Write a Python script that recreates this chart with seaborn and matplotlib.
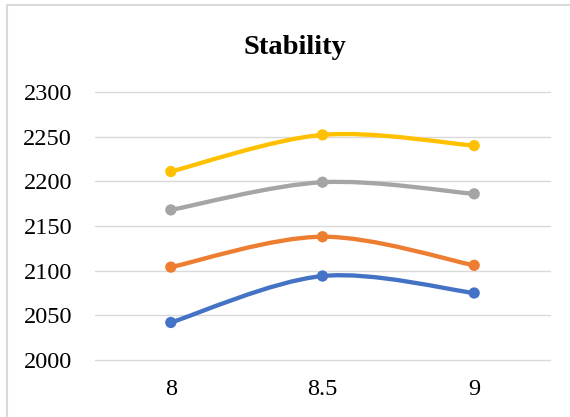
import matplotlib
matplotlib.use("Agg")
import matplotlib.pyplot as plt
from matplotlib.path import Path
from matplotlib.patches import PathPatch
from matplotlib.lines import Line2D
import numpy as np
import pandas as pd
import seaborn as sns

# Category axis (pH levels) and the four stability series
categories = ["8", "8.5", "9"]
series_1 = [2042, 2094, 2075]
series_2 = [2104, 2138, 2106]
series_3 = [2168, 2199, 2186]
series_4 = [2211, 2252, 2240]
series_names = ["Series1", "Series2", "Series3", "Series4"]
series_values = [series_1, series_2, series_3, series_4]
palette = ["#4472C4", "#ED7D31", "#A5A5A5", "#FFC000"]

y_ticks = [2000, 2050, 2100, 2150, 2200, 2250, 2300]

sns.set_theme(style="white")
plt.rcParams["font.family"] = ["Liberation Serif", "DejaVu Serif"]

df = pd.DataFrame(
    [
        {"pos": i, "value": v, "series": name}
        for name, vals in zip(series_names, series_values)
        for i, v in enumerate(vals)
    ]
)

W, H = 570, 417
fig = plt.figure(figsize=(W / 100, H / 100), dpi=100)
ax = fig.add_axes([95 / W, 1 - 360 / H, 455 / W, 268 / H])


def smooth_path(xs, ys):
    """Cubic Bezier path through the points (Catmull-Rom style smoothing)."""
    pts = np.column_stack([xs, ys]).astype(float)
    n = len(pts)
    verts = [pts[0]]
    codes = [Path.MOVETO]
    for i in range(n - 1):
        p0 = pts[i - 1] if i > 0 else pts[i]
        p1 = pts[i]
        p2 = pts[i + 1]
        p3 = pts[i + 2] if i + 2 < n else pts[i + 1]
        c1 = p1 + (p2 - p0) / 6.0
        c2 = p2 - (p3 - p1) / 6.0
        verts += [c1, c2, p2]
        codes += [Path.CURVE4] * 3
    return Path(verts, codes)


for name, color in zip(series_names, palette):
    sub = df[df["series"] == name]
    patch = PathPatch(
        smooth_path(sub["pos"].values, sub["value"].values),
        facecolor="none",
        edgecolor=color,
        linewidth=3.1,
        capstyle="round",
        joinstyle="round",
        zorder=3,
    )
    ax.add_patch(patch)

sns.scatterplot(
    data=df,
    x="pos",
    y="value",
    hue="series",
    palette=palette,
    s=66,
    edgecolor="none",
    legend=False,
    zorder=4,
    ax=ax,
)

ax.set_xlim(-0.5, len(categories) - 0.5)
ax.set_ylim(y_ticks[0], y_ticks[-1])
ax.set_xticks(range(len(categories)))
ax.set_xticklabels(categories)
ax.set_yticks(y_ticks)
ax.set_xlabel("")
ax.set_ylabel("")
ax.grid(axis="y", color="#D9D9D9", linewidth=1.0)
ax.grid(axis="x", visible=False)
for gl in ax.get_ygridlines():
    gl.set_clip_on(False)
ax.set_axisbelow(True)
for side in ax.spines.values():
    side.set_visible(False)
ax.tick_params(axis="both", length=0, labelsize=17.5, colors="#000000")
ax.tick_params(axis="y", pad=16.5)
ax.tick_params(axis="x", pad=14)

fig.text(0.517, 1 - 47 / H, "Stability", ha="center", va="center",
         fontsize=20.5, fontweight="bold", color="#000000")

# Chart-area frame (top and left edges fall inside the canvas)
frame_kw = dict(color="#D9D9D9", linewidth=1.5, transform=fig.transFigure)
fig.add_artist(Line2D([6.5 / W, 1.0], [1 - 5 / H, 1 - 5 / H], **frame_kw))
fig.add_artist(Line2D([6.5 / W, 6.5 / W], [0.0, 1 - 5 / H], **frame_kw))

fig.savefig("out.png", dpi=100)
